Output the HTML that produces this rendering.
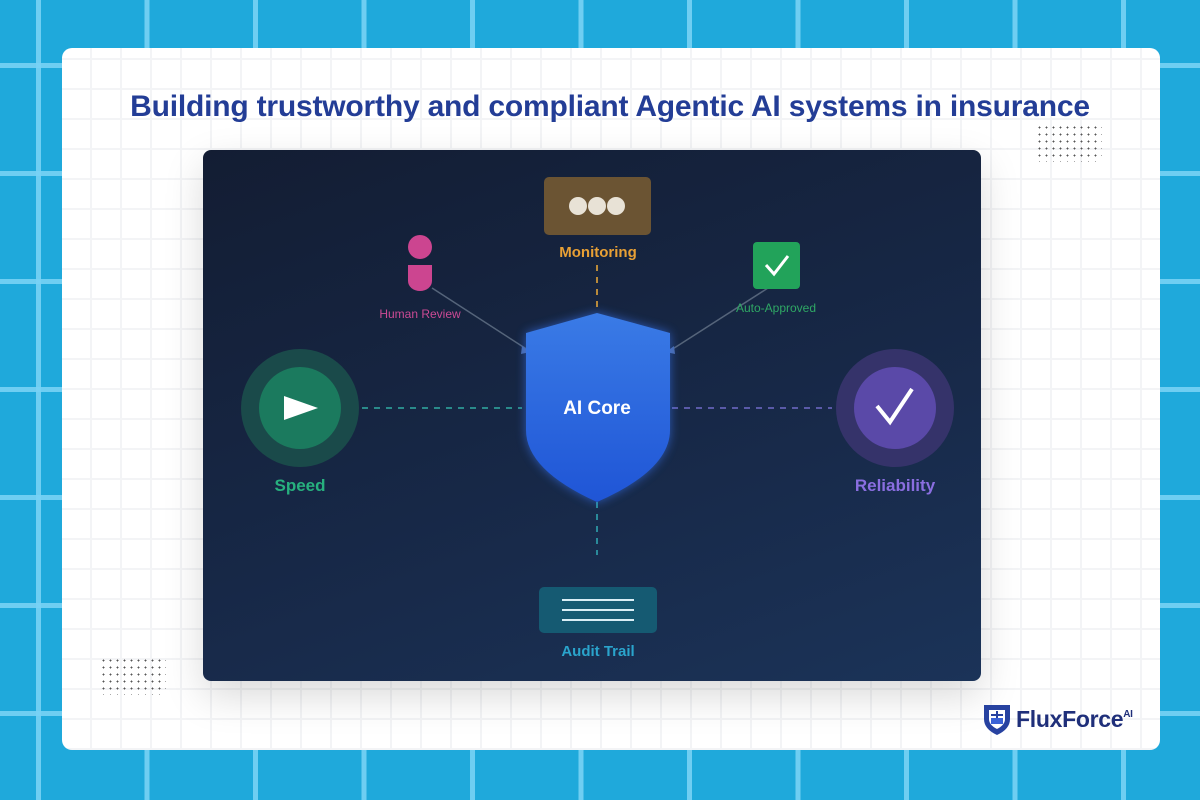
<!DOCTYPE html>
<html><head><meta charset="utf-8"><style>
html,body{margin:0;padding:0}
body{width:1200px;height:800px;position:relative;overflow:hidden;font-family:"Liberation Sans",sans-serif;
background-color:#1fa9db;
background-image:linear-gradient(90deg,rgba(120,210,245,0.9) 5px,transparent 5px),linear-gradient(0deg,rgba(120,210,245,0.9) 5px,transparent 5px);
background-size:108.5px 108px;background-position:36px 68px;}
.card{position:absolute;left:62px;top:48px;width:1098px;height:702px;border-radius:10px;background-color:#fff;
background-image:linear-gradient(90deg,#f3f4f6 2px,transparent 2px),linear-gradient(0deg,#f3f4f6 2px,transparent 2px);
background-size:30px 30px;background-position:-2px 12px;}
.title{position:absolute;left:10px;width:1200px;top:90px;text-align:center;font-weight:bold;font-size:30px;color:#233d96;letter-spacing:-0.2px}
.panel{position:absolute;left:203px;top:150px;width:778px;height:531px;border-radius:8px;background:linear-gradient(160deg,#131d33 0%,#172847 55%,#1b3358 100%);box-shadow:0 15px 40px rgba(0,0,0,0.15)}
.dots{position:absolute;background-image:radial-gradient(#555 0.8px,transparent 1px);background-size:7px 7px}
.lbl{position:absolute;font-weight:bold;text-align:center}
</style></head><body>
<div class="card"></div>
<div class="dots" style="left:1036px;top:124px;width:66px;height:38px"></div>
<div class="dots" style="left:100px;top:657px;width:66px;height:38px"></div>
<div class="title">Building trustworthy and compliant Agentic AI systems in insurance</div>
<div class="panel"></div>
<svg style="position:absolute;left:0;top:0" width="1200" height="800">
<defs>
<linearGradient id="sh" x1="0" y1="0" x2="0" y2="1"><stop offset="0" stop-color="#3a7be6"/><stop offset="1" stop-color="#1f55d6"/></linearGradient>
<filter id="gl" x="-30%" y="-30%" width="160%" height="160%"><feGaussianBlur stdDeviation="5"/></filter>
</defs>
<g stroke-dasharray="6,6" stroke-width="2" fill="none">
<line x1="597" y1="265" x2="597" y2="310" stroke="#b98a3a"/>
<line x1="597" y1="502" x2="597" y2="555" stroke="#2a8a9a"/>
<line x1="362" y1="408" x2="522" y2="408" stroke="#2a8a8a"/>
<line x1="672" y1="408" x2="832" y2="408" stroke="#5a5aa8"/>
</g>
<line x1="432" y1="288" x2="528" y2="350" stroke="#55647a" stroke-width="1.5"/>
<line x1="768" y1="288" x2="668" y2="352" stroke="#55647a" stroke-width="1.5"/>
<path d="M522 346 l8 6 l-9 2z" fill="#4a6aa8"/><path d="M674 346 l-8 6 l9 2z" fill="#4a6aa8"/>
<path d="M597 313 L670 333 L670 430 Q670 470 597 502 Q526 470 526 430 L526 333 Z" fill="#3a7aff" opacity="0.6" filter="url(#gl)"/>
<path d="M597 313 L670 333 L670 430 Q670 470 597 502 Q526 470 526 430 L526 333 Z" fill="url(#sh)"/>
<text x="597" y="414" text-anchor="middle" font-family="Liberation Sans" font-weight="bold" font-size="19" fill="#fff">AI Core</text>
<circle cx="300" cy="408" r="59" fill="#1a4a4a"/><circle cx="300" cy="408" r="41" fill="#1b7a5e"/>
<path d="M284 396 L318 408 L284 420 Z" fill="#fff"/>
<circle cx="895" cy="408" r="59" fill="#35336a"/><circle cx="895" cy="408" r="41" fill="#5a49a8"/>
<path d="M877 406 L890 422 L912 389" stroke="#fff" stroke-width="4" fill="none"/>
<rect x="544" y="177" width="107" height="58" rx="5" fill="#6b5433"/>
<circle cx="578" cy="206" r="9" fill="#e8e2d6"/><circle cx="597" cy="206" r="9" fill="#e8e2d6"/><circle cx="616" cy="206" r="9" fill="#e8e2d6"/>
<rect x="539" y="587" width="118" height="46" rx="5" fill="#155a72"/>
<g stroke="#d8eef5" stroke-width="2"><line x1="562" y1="600" x2="634" y2="600"/><line x1="562" y1="610" x2="634" y2="610"/><line x1="562" y1="620" x2="634" y2="620"/></g>
<circle cx="420" cy="247" r="12" fill="#cc4590"/>
<path d="M408 265 h24 v16 a12 10 0 0 1 -24 0z" fill="#cc4590"/>
<rect x="753" y="242" width="47" height="47" rx="4" fill="#22a35a"/>
<path d="M766 265 L774 274 L788 256" stroke="#fff" stroke-width="3" fill="none"/>
<g transform="translate(982,705)"><path d="M2 0 H28 V14 Q28 24 15 30 Q2 24 2 14 Z" fill="#2742a0"/><path d="M7 5 H23 V14 Q23 20 15 24 Q7 20 7 14 Z" fill="#fff"/><rect x="9" y="13" width="12" height="6" fill="#3a62d6"/><line x1="15" y1="6" x2="15" y2="13" stroke="#2742a0" stroke-width="2"/><line x1="9" y1="10" x2="21" y2="10" stroke="#2742a0" stroke-width="2"/></g>
</svg>
<div class="lbl" style="left:520px;width:156px;top:244px;font-size:15px;color:#e8a035">Monitoring</div>
<div class="lbl" style="left:360px;width:120px;top:307px;font-size:12px;font-weight:normal;color:#cc4a95">Human Review</div>
<div class="lbl" style="left:716px;width:120px;top:301px;font-size:12px;font-weight:normal;color:#2fa865">Auto-Approved</div>
<div class="lbl" style="left:240px;width:120px;top:476px;font-size:17px;color:#27b07e">Speed</div>
<div class="lbl" style="left:825px;width:140px;top:476px;font-size:17px;color:#8a6ee0">Reliability</div>
<div class="lbl" style="left:520px;width:156px;top:643px;font-size:15px;color:#2aa4cc">Audit Trail</div>
<div class="lbl" style="left:1016px;top:706px;font-size:23px;color:#1f2f7a;letter-spacing:-0.3px">FluxForce<sup style="font-size:10px;vertical-align:10px">AI</sup></div>
</body></html>
